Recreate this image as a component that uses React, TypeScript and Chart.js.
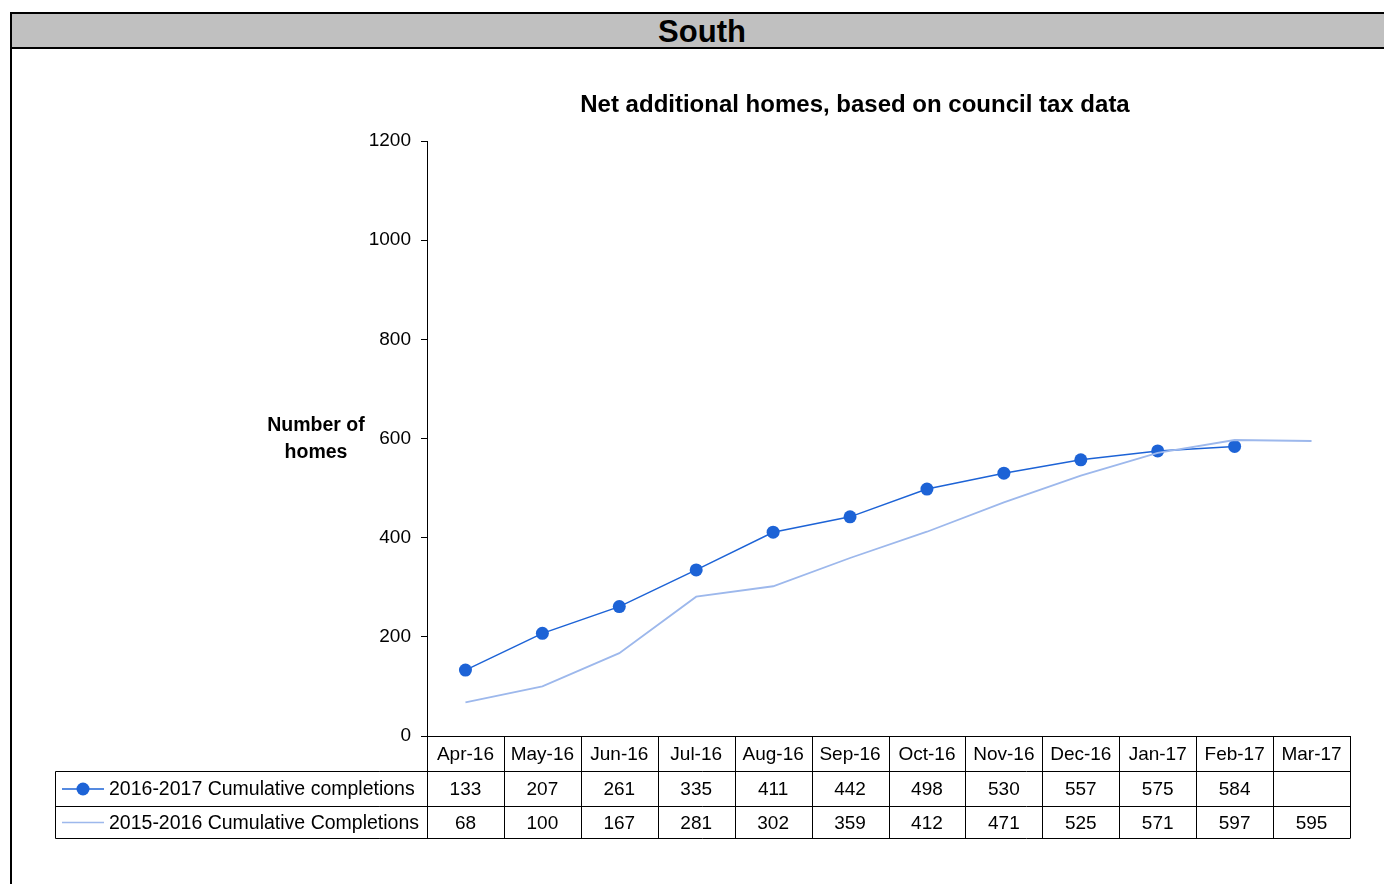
import React, { useEffect, useRef } from "react";
import { Chart, registerables } from "chart.js";

Chart.register(...registerables);

const months = ["Apr-16", "May-16", "Jun-16", "Jul-16", "Aug-16", "Sep-16", "Oct-16", "Nov-16", "Dec-16", "Jan-17", "Feb-17", "Mar-17"];
const completions1617: (number | null)[] = [133, 207, 261, 335, 411, 442, 498, 530, 557, 575, 584, null];
const completions1516: number[] = [68, 100, 167, 281, 302, 359, 412, 471, 525, 571, 597, 595];
const seriesNames = ["2016-2017 Cumulative completions", "2015-2016 Cumulative Completions"];
const yTicks = [0, 200, 400, 600, 800, 1000, 1200];

const DARK = "#1d63d6";
const LIGHT = "#9db8ec";
const FONT = "'Liberation Sans', Arial, sans-serif";

// Draws the chart title, the axis caption and the data table under the x axis
const tablePlugin = {
  id: "dataTable",
  afterDraw(chart: any) {
    const ctx = chart.ctx as CanvasRenderingContext2D;
    const x = chart.scales.x;
    const area = chart.chartArea;
    ctx.save();

    ctx.fillStyle = "#000";
    ctx.textAlign = "center";
    ctx.textBaseline = "middle";
    ctx.font = `bold 24px ${FONT}`;
    ctx.fillText("Net additional homes, based on council tax data", 855, 105);

    ctx.font = `bold 19.5px ${FONT}`;
    ctx.fillText("Number of", 316, 426);
    ctx.fillText("homes", 316, 453);

    const n = months.length;
    const colW = (area.right - area.left) / n;
    const top = area.bottom;
    const r1 = 771.5;
    const r2 = 806.5;
    const r3 = 838.5;
    const legendLeft = 55.5;

    ctx.strokeStyle = "#000";
    ctx.lineWidth = 1;
    ctx.beginPath();
    // horizontal rules
    ctx.moveTo(legendLeft, r1); ctx.lineTo(area.right, r1);
    ctx.moveTo(legendLeft, r2); ctx.lineTo(area.right, r2);
    ctx.moveTo(legendLeft, r3); ctx.lineTo(area.right, r3);
    // legend column outline
    ctx.moveTo(legendLeft, r1); ctx.lineTo(legendLeft, r3);
    // column separators
    for (let i = 0; i <= n; i++) {
      const cx = Math.round(area.left + i * colW) + 0.5;
      ctx.moveTo(cx, top); ctx.lineTo(cx, r3);
    }
    ctx.stroke();

    ctx.font = `19px ${FONT}`;
    for (let i = 0; i < n; i++) {
      const cx = x.getPixelForValue(i);
      ctx.fillText(months[i], cx, (top + r1) / 2 + 1);
      const a = completions1617[i];
      if (a !== null) ctx.fillText(String(a), cx, (r1 + r2) / 2 + 1);
      ctx.fillText(String(completions1516[i]), cx, (r2 + r3) / 2 + 1);
    }

    // legend keys
    ctx.textAlign = "left";
    const keyY1 = (r1 + r2) / 2;
    const keyY2 = (r2 + r3) / 2;
    ctx.strokeStyle = DARK;
    ctx.lineWidth = 1.5;
    ctx.beginPath();
    ctx.moveTo(62, keyY1); ctx.lineTo(104, keyY1);
    ctx.stroke();
    ctx.fillStyle = DARK;
    ctx.beginPath();
    ctx.arc(83, keyY1, 6.5, 0, Math.PI * 2);
    ctx.fill();
    ctx.strokeStyle = LIGHT;
    ctx.beginPath();
    ctx.moveTo(62, keyY2); ctx.lineTo(104, keyY2);
    ctx.stroke();

    ctx.fillStyle = "#000";
    ctx.font = `19.5px ${FONT}`;
    ctx.fillText(seriesNames[0], 109, keyY1 + 1);
    ctx.fillText(seriesNames[1], 109, keyY2 + 1);
    ctx.restore();
  },
};

function NetHomesChart() {
  const ref = useRef<HTMLCanvasElement | null>(null);
  useEffect(() => {
    if (!ref.current) return;
    const chart = new Chart(ref.current, {
      type: "line",
      data: {
        labels: months,
        datasets: [
          {
            label: seriesNames[1],
            data: completions1516,
            borderColor: LIGHT,
            borderWidth: 1.8,
            pointRadius: 0,
            tension: 0,
          },
          {
            label: seriesNames[0],
            data: completions1617,
            borderColor: DARK,
            backgroundColor: DARK,
            borderWidth: 1.5,
            pointRadius: 6.5,
            pointBorderWidth: 0,
            tension: 0,
          },
        ],
      },
      options: {
        animation: false,
        responsive: false,
        maintainAspectRatio: false,
        layout: { padding: { top: 141, right: 34, left: 0, bottom: 0 } },
        plugins: { legend: { display: false }, tooltip: { enabled: false }, title: { display: false } },
        scales: {
          x: {
            type: "category",
            offset: true,
            grid: { display: false, drawTicks: false },
            border: { display: true, color: "#000", width: 1 },
            ticks: { display: false },
            afterFit: (s: any) => { s.height = 148; },
          },
          y: {
            min: 0,
            max: 1200,
            afterBuildTicks: (s: any) => { s.ticks = yTicks.map((v) => ({ value: v })); },
            grid: { drawOnChartArea: false, drawTicks: true, tickLength: 6, color: "#000" },
            border: { display: true, color: "#000", width: 1 },
            ticks: {
              color: "#000",
              padding: 10,
              font: { family: FONT, size: 19 },
              callback: (v: any) => String(v),
            },
            afterFit: (s: any) => { s.width = 427; },
          },
        },
      },
      plugins: [tablePlugin],
    });
    return () => chart.destroy();
  }, []);
  return <canvas ref={ref} width={1384} height={884} style={{ position: "absolute", left: 0, top: 0 }} />;
}

export default function App() {
  return (
    <div style={{ position: "fixed", left: 0, top: 0, width: 1384, height: 884, background: "#fff", overflow: "hidden" }}>
      <div
        style={{
          position: "absolute",
          left: 10,
          top: 12,
          width: 1380,
          height: 33,
          border: "2px solid #000",
          background: "#c0c0c0",
          textAlign: "center",
          font: `bold 31px ${FONT}`,
          lineHeight: "35px",
          color: "#000",
          boxSizing: "content-box",
        }}
      >
        South
      </div>
      <div style={{ position: "absolute", left: 10, top: 48, width: 2, height: 836, background: "#000" }} />
      <NetHomesChart />
    </div>
  );
}
